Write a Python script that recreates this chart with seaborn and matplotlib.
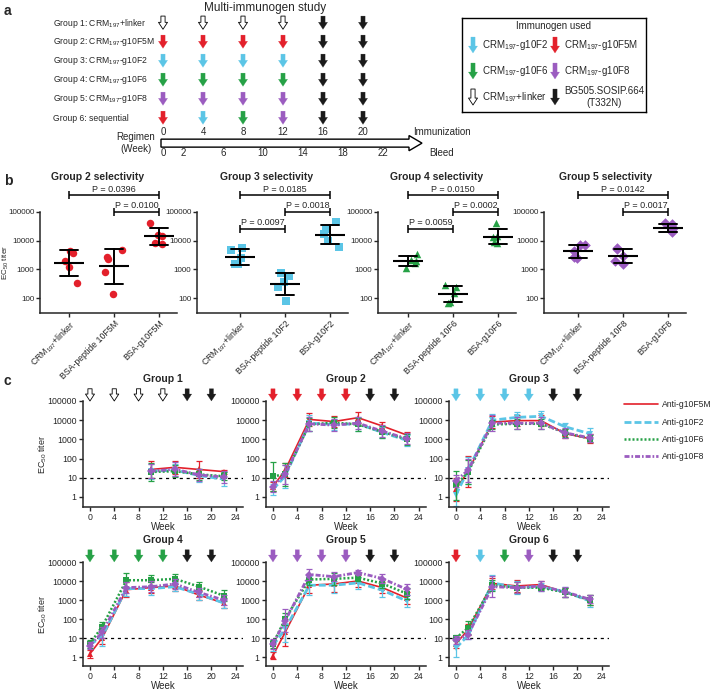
import numpy as np
import pandas as pd
import matplotlib
matplotlib.use("Agg")
import matplotlib.pyplot as plt
from matplotlib.lines import Line2D
from matplotlib.patches import FancyArrow
from matplotlib.ticker import FixedLocator, FuncFormatter, NullLocator
import seaborn as sns

# ------------------------- COLOURS ------------------------- #
RED = "#e3202b"
CYAN = "#5bc5e6"
GREEN = "#26a146"
PURPLE = "#9b5cc0"
BLACK = "#1a1a1a"
HOLLOW = "none"

# ------------------------- PANEL A DATA ------------------------- #
A_GROUPS = ["Group 1: CRM$_{197}$+linker", "Group 2: CRM$_{197}$-g10F5M",
            "Group 3: CRM$_{197}$-g10F2", "Group 4: CRM$_{197}$-g10F6",
            "Group 5: CRM$_{197}$-g10F8", "Group 6: sequential"]
IMMUNIZATION_WEEKS = [0, 4, 8, 12, 16, 20]
BLEED_WEEKS = [0, 2, 6, 10, 14, 18, 22]
A_ARROWS = [
    [HOLLOW, HOLLOW, HOLLOW, HOLLOW, BLACK, BLACK],
    [RED, RED, RED, RED, BLACK, BLACK],
    [CYAN, CYAN, CYAN, CYAN, BLACK, BLACK],
    [GREEN, GREEN, GREEN, GREEN, BLACK, BLACK],
    [PURPLE, PURPLE, PURPLE, PURPLE, BLACK, BLACK],
    [RED, CYAN, GREEN, PURPLE, BLACK, BLACK],
]
LEGEND_ITEMS = [(CYAN, "CRM$_{197}$-g10F2"), (RED, "CRM$_{197}$-g10F5M"),
                (GREEN, "CRM$_{197}$-g10F6"), (PURPLE, "CRM$_{197}$-g10F8"),
                (HOLLOW, "CRM$_{197}$+linker"), (BLACK, "BG505.SOSIP.664\n(T332N)")]

# ------------------------- PANEL B DATA ------------------------- #
B_TITLES = ["Group 2 selectivity", "Group 3 selectivity", "Group 4 selectivity", "Group 5 selectivity"]
B_CATS = [
    ["CRM$_{197}$+linker", "BSA-peptide 10F5M", "BSA-g10F5M"],
    ["CRM$_{197}$+linker", "BSA-peptide 10F2", "BSA-g10F2"],
    ["CRM$_{197}$+linker", "BSA-peptide 10F6", "BSA-g10F6"],
    ["CRM$_{197}$+linker", "BSA-peptide 10F8", "BSA-g10F8"],
]
B_G2 = [[4300, 3600, 1900, 1200, 330], [4700, 2600, 2300, 800, 140], [40000, 16000, 14000, 8000, 7500]]
B_G3 = [[5500, 4600, 2500, 1500, 1500], [750, 600, 350, 250, 80], [45000, 25000, 17000, 10000, 6000]]
B_G4 = [[3300, 2200, 2000, 1600, 1100], [280, 250, 150, 75, 65], [40000, 14000, 13000, 9000, 8000]]
B_G5 = [[7000, 6800, 4500, 2600, 2500], [5500, 5000, 3000, 2000, 1500], [40000, 38000, 27000, 22000, 20000]]
B_COLORS = [RED, CYAN, GREEN, PURPLE]
B_MARKERS = ["o", "s", "^", "D"]
# (from category, to category, P label, level)
B_PVALS = [
    [(0, 2, "P = 0.0396", 0), (1, 2, "P = 0.0100", 1)],
    [(0, 2, "P = 0.0185", 0), (1, 2, "P = 0.0018", 1), (0, 1, "P = 0.0097", 2)],
    [(0, 2, "P = 0.0150", 0), (1, 2, "P = 0.0002", 1), (0, 1, "P = 0.0059", 2)],
    [(0, 2, "P = 0.0142", 0), (1, 2, "P = 0.0017", 1)],
]
P_LEVELS = [3.9e5, 1.0e5, 2.56e4]

# ------------------------- PANEL C DATA ------------------------- #
WEEKS = [0, 2, 6, 10, 14, 18, 22]
G1_WEEKS = [10, 14, 18, 22]
C_TITLES = ["Group 1", "Group 2", "Group 3", "Group 4", "Group 5", "Group 6"]

F5M_TITER = [[27, 35, 27, 21],
             [3.5, 25, 11000, 8500, 13500, 5000, 1700],
             [2.5, 22, 8000, 9500, 9500, 2000, 1100],
             [1.5, 10, 3500, 4500, 5500, 1800, 700],
             [1.2, 20, 6000, 7000, 10000, 4500, 1300],
             [5, 28, 7500, 5500, 6500, 2500, 1000]]
F5M_LOGSD = [[0.45, 0.35, 0.42, 0.1],
             [0.25, 0.35, 0.35, 0.3, 0.3, 0.2, 0.15],
             [0.6, 0.8, 0.3, 0.3, 0.3, 0.25, 0.25],
             [0.2, 0.3, 0.4, 0.3, 0.25, 0.25, 0.25],
             [0.2, 0.7, 0.4, 0.4, 0.3, 0.3, 0.3],
             [0.2, 0.3, 0.3, 0.3, 0.2, 0.25, 0.25]]
F2_TITER = [[22, 25, 13, 8.5],
            [2.5, 12, 7000, 6000, 6500, 2300, 900],
            [1.3, 25, 10000, 14000, 16000, 4500, 2000],
            [4.5, 12, 4000, 4000, 5000, 2000, 700],
            [4, 30, 6000, 6000, 8000, 3300, 900],
            [3, 14, 8000, 4500, 5000, 2700, 900]]
F2_LOGSD = [[0.4, 0.3, 0.35, 0.35],
            [0.3, 0.6, 0.4, 0.3, 0.35, 0.3, 0.3],
            [0.6, 0.7, 0.3, 0.3, 0.3, 0.2, 0.3],
            [0.2, 0.5, 0.4, 0.35, 0.25, 0.3, 0.25],
            [0.3, 0.7, 0.5, 0.4, 0.3, 0.35, 0.3],
            [0.45, 0.2, 0.4, 0.35, 0.2, 0.25, 0.3]]
F6_TITER = [[20, 22, 15, 12],
            [12, 15, 6000, 7500, 6000, 2500, 1000],
            [4, 20, 6000, 6500, 6500, 2200, 1100],
            [5, 40, 11000, 11000, 13000, 5000, 1700],
            [5, 100, 12000, 13000, 15000, 7400, 2200],
            [10, 35, 6000, 4500, 4500, 2500, 1000]]
F6_LOGSD = [[0.45, 0.3, 0.3, 0.2],
            [0.75, 0.6, 0.35, 0.3, 0.35, 0.3, 0.3],
            [0.75, 0.6, 0.25, 0.25, 0.25, 0.2, 0.2],
            [0.2, 0.25, 0.4, 0.25, 0.25, 0.25, 0.3],
            [0.2, 0.3, 0.3, 0.3, 0.2, 0.25, 0.3],
            [0.15, 0.35, 0.3, 0.3, 0.15, 0.25, 0.25]]
F8_TITER = [[22, 28, 14, 11],
            [3.5, 15, 6500, 5500, 7000, 2700, 1100],
            [7, 25, 7000, 7000, 7000, 2200, 1200],
            [4, 20, 4500, 5000, 7000, 2500, 1000],
            [5, 80, 22000, 17000, 28000, 13500, 3700],
            [8, 15, 5000, 4500, 5500, 2700, 1100]]
F8_LOGSD = [[0.35, 0.35, 0.3, 0.3],
            [0.3, 0.5, 0.35, 0.3, 0.3, 0.3, 0.3],
            [0.3, 0.6, 0.4, 0.3, 0.3, 0.25, 0.2],
            [0.2, 0.3, 0.3, 0.3, 0.25, 0.25, 0.25],
            [0.25, 0.6, 0.3, 0.25, 0.15, 0.25, 0.3],
            [0.2, 0.25, 0.55, 0.3, 0.25, 0.25, 0.2]]

# name, titers, errors, colour, linestyle, linewidth, marker
SERIES = [
    ("Anti-g10F5M", F5M_TITER, F5M_LOGSD, RED, "-", 1.2, "^"),
    ("Anti-g10F2", F2_TITER, F2_LOGSD, CYAN, (0, (2.5, 1.1)), 2.0, "v"),
    ("Anti-g10F6", F6_TITER, F6_LOGSD, GREEN, (0, (0.8, 0.8)), 1.8, "s"),
    ("Anti-g10F8", F8_TITER, F8_LOGSD, PURPLE, (0, (1.8, 0.7, 0.6, 0.7)), 2.0, "D"),
]

# ------------------------- STYLE ------------------------- #
sns.set_style("ticks")
plt.rcParams["font.family"] = ["Liberation Sans", "DejaVu Sans"]
plt.rcParams["mathtext.fontset"] = "custom"
plt.rcParams["mathtext.rm"] = "Liberation Sans"
plt.rcParams["mathtext.it"] = "Liberation Sans:italic"
plt.rcParams["mathtext.bf"] = "Liberation Sans:bold"
plt.rcParams["mathtext.default"] = "regular"
plt.rcParams["axes.linewidth"] = 1.1

W, H = 716, 691
fig = plt.figure(figsize=(W / 100, H / 100), dpi=100)


def px_axes(x0, y0, x1, y1):
    return fig.add_axes([x0 / W, 1 - y1 / H, (x1 - x0) / W, (y1 - y0) / H])


def ftext(x, y, s, **kw):
    fig.text(x / W, 1 - y / H, s, **kw)


def block_arrow(ax, x, y, color, coords="data", length=9.5):
    hollow = color == HOLLOW
    ax.annotate("", xy=(x, y), xycoords=coords, xytext=(0, length), textcoords="offset points",
                arrowprops=dict(arrowstyle="simple,head_length=0.5,head_width=0.65,tail_width=0.3",
                                fc="white" if hollow else color, ec="black" if hollow else color,
                                lw=0.6 if hollow else 0.2, shrinkA=0, shrinkB=0, mutation_scale=10),
                annotation_clip=False)


def log_ticks(ax, ticks, size=6.3, pad=1.5):
    ax.yaxis.set_major_locator(FixedLocator(ticks))
    ax.yaxis.set_minor_locator(NullLocator())
    ax.yaxis.set_major_formatter(FuncFormatter(lambda v, p: f"{v:.0f}"))
    ax.tick_params(labelsize=size, length=3, width=1.0, pad=pad)
    sns.despine(ax=ax)


# ------------------------- PANEL A ------------------------- #
ftext(4, 11, "a", fontsize=10, fontweight="bold", va="center")
ax_a = px_axes(0, 0, 716, 165)
ax_a.set_xlim(-16.3, 55.3)
ax_a.set_ylim(7.47, -1.21)
ax_a.axis("off")
ax_a.text(10.2, -0.79, "Multi-immunogen study", ha="center", va="center", fontsize=8.5)
for i, label in enumerate(A_GROUPS):
    ax_a.text(-11.0, i, label, ha="left", va="center", fontsize=6.2)
    for w, c in zip(IMMUNIZATION_WEEKS, A_ARROWS[i]):
        block_arrow(ax_a, w, i + 0.33, c)
for w in IMMUNIZATION_WEEKS:
    ax_a.text(w, 5.74, str(w), ha="center", va="center", fontsize=7)
for w in BLEED_WEEKS:
    ax_a.text(w, 6.86, str(w), ha="center", va="center", fontsize=7)
ax_a.add_patch(FancyArrow(-0.2, 6.32, 26.1, 0, width=0.42, head_width=0.8, head_length=1.3,
                          length_includes_head=True, fc="white", ec="black", lw=1.0))
ax_a.text(-0.8, 6.32, "Regimen\n(Week)", ha="right", va="center", fontsize=7, multialignment="center",
          linespacing=1.3)
ax_a.text(25.0, 5.74, "Immunization", ha="left", va="center", fontsize=7)
ax_a.text(26.6, 6.86, "Bleed", ha="left", va="center", fontsize=7)

ax_leg = px_axes(462, 18, 646, 112)
ax_leg.set_xlim(0, 184)
ax_leg.set_ylim(94, 0)
ax_leg.set_xticks([])
ax_leg.set_yticks([])
for s in ax_leg.spines.values():
    s.set_linewidth(1.0)
    s.set_color("black")
ax_leg.text(92, 8.5, "Immunogen used", ha="center", va="center", fontsize=7)
for k, (c, label) in enumerate(LEGEND_ITEMS):
    col, row = k % 2, k // 2
    ax0 = 11 if col == 0 else 93
    yy = 27 + 26 * row
    block_arrow(ax_leg, ax0, yy + 8, c, length=11.5)
    ax_leg.text(ax0 + 9, yy, label, ha="left", va="center", fontsize=7,
                multialignment="center")

# ------------------------- PANEL B ------------------------- #
ftext(4, 181, "b", fontsize=10, fontweight="bold", va="center")
B_VALUES = [B_G2, B_G3, B_G4, B_G5]
B_LEFT = [40, 197, 378, 544]
B_CAT0 = [69, 240, 408, 578]
B_TITLE_X = [98, 267, 437, 606]
np.random.seed(3)
for k in range(4):
    step = 45.0
    right = B_CAT0[k] + 2.4 * step
    ax = px_axes(B_LEFT[k], 212, right, 313)
    df = pd.DataFrame({"antigen": np.repeat(B_CATS[k], 5),
                       "titer": np.concatenate(B_VALUES[k])})
    sns.stripplot(data=df, x="antigen", y="titer", order=B_CATS[k], color=B_COLORS[k],
                  marker=B_MARKERS[k], size=5.4, jitter=0.22, linewidth=0, log_scale=True,
                  ax=ax, zorder=1)
    sns.pointplot(data=df, x="antigen", y="titer", order=B_CATS[k], estimator="mean",
                  errorbar="sd", color="black", marker="_", markersize=21, markeredgewidth=1.5,
                  linestyle="none", capsize=0.38, err_kws={"linewidth": 1.4}, log_scale=True,
                  ax=ax, zorder=3)
    ax.set_ylim(30, 1e5)
    ax.set_xlim((B_LEFT[k] - B_CAT0[k]) / step, 2.4)
    log_ticks(ax, [100, 1000, 10000, 100000], size=5.8, pad=1.0)
    ax.set_xlabel("")
    ax.set_ylabel("EC$_{50}$ titer" if k == 0 else "", fontsize=5.8)
    ax.yaxis.set_label_coords((10.5 - B_LEFT[k]) / (right - B_LEFT[k]), 0.5)
    plt.setp(ax.get_xticklabels(), rotation=45, ha="right", rotation_mode="anchor", fontsize=6.3)
    ftext(B_TITLE_X[k], 177, B_TITLES[k], ha="center", va="center", fontsize=7.5, fontweight="bold")
    for a, b, label, lev in B_PVALS[k]:
        y = P_LEVELS[lev]
        ax.hlines(y, a, b, color="black", lw=1.1, clip_on=False)
        ax.vlines([a, b], y / 1.38, y * 1.38, color="black", lw=1.1, clip_on=False)
        ax.text((a + b) / 2, y * 1.13, label, ha="center", va="bottom", fontsize=6.5)

# ------------------------- PANEL C ------------------------- #
ftext(4, 381, "c", fontsize=10, fontweight="bold", va="center")
C_LEFT = [83, 266, 449]
C_ROWS = [(401, 507, 0.3), (562, 666, 0.34)]
for g in range(6):
    row, col = g // 3, g % 3
    top, bottom, ymin = C_ROWS[row]
    ax = px_axes(C_LEFT[col], top, C_LEFT[col] + 160, bottom)
    ax.set_yscale("log")
    weeks = G1_WEEKS if g == 0 else WEEKS
    ax.axhline(10, color="black", ls=(0, (2.5, 3)), lw=0.9, zorder=0)
    for name, titers, errs, color, ls, lw, mk in SERIES:
        v = np.array(titers[g], dtype=float)
        e = np.array(errs[g])
        df = pd.DataFrame({"week": weeks, "titer": v})
        sns.lineplot(data=df, x="week", y="titer", color=color, linestyle=ls, linewidth=lw,
                     marker=mk, markersize=4, markeredgewidth=0, errorbar=None, ax=ax)
        ax.errorbar(weeks, v, yerr=[v - v / 10 ** e, v * 10 ** e - v], fmt="none",
                    ecolor=color, elinewidth=0.9, capsize=2, capthick=0.9)
    ax.set_xlim(-1.15, 25.2)
    ax.set_ylim(ymin, 1e5)
    ax.set_xticks(range(0, 25, 4))
    log_ticks(ax, [1, 10, 100, 1000, 10000, 100000])
    ax.set_xlabel("Week", fontsize=7, labelpad=0)
    ax.set_ylabel("EC$_{50}$ titer" if col == 0 else "", fontsize=6.5)
    ax.yaxis.set_label_coords((49 - C_LEFT[col]) / 160, 0.5)
    ax.set_title(C_TITLES[g], fontsize=7.5, fontweight="bold", pad=14)
    for w, c in zip(IMMUNIZATION_WEEKS, A_ARROWS[g]):
        block_arrow(ax, w, 1.0, c, coords=ax.get_xaxis_transform(), length=8.8)

handles = [Line2D([], [], color=c, ls=ls, lw=lw) for _, _, _, c, ls, lw, _ in SERIES]
fig.legend(handles, [s[0] for s in SERIES], loc="upper left",
           bbox_to_anchor=(621 / W, 1 - 397 / H), frameon=False, fontsize=6.2,
           handlelength=3.9, handletextpad=0.5, labelspacing=0.95, borderaxespad=0)

fig.savefig("out.png", dpi=100)
